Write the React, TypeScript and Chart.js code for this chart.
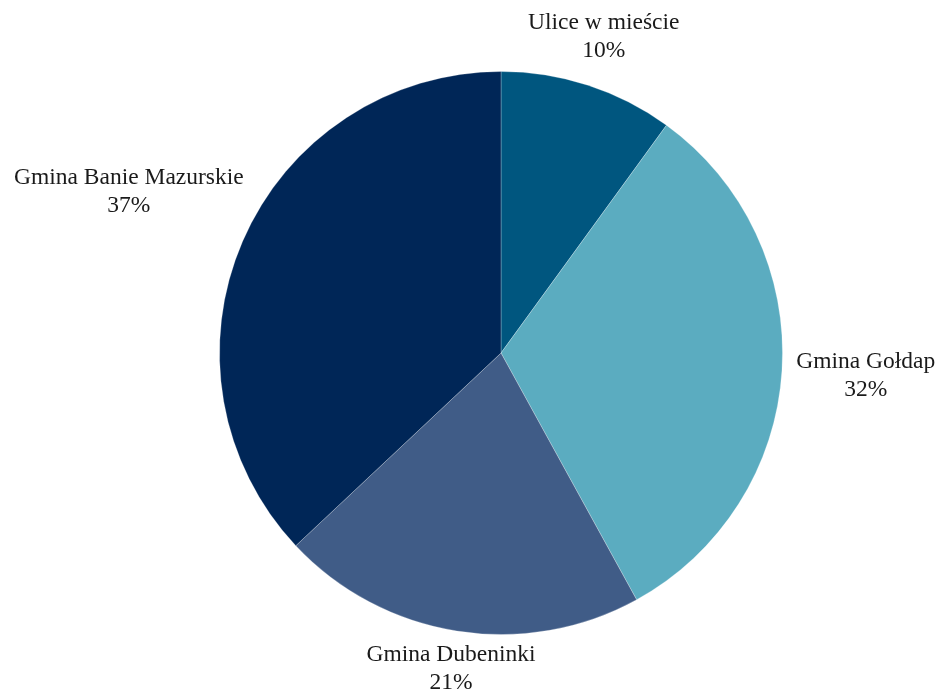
import React, { useEffect, useRef } from "react";
import { Chart, registerables } from "chart.js";

Chart.register(...registerables);

const categories = ["Ulice w mieście", "Gmina Gołdap", "Gmina Dubeninki", "Gmina Banie Mazurskie"];
const shares = [10, 32, 21, 37];
const colors = ["#00567F", "#5BACC0", "#405C87", "#002657"];
// distance of each label's centre beyond the pie's edge, along the slice's mid-angle
const labelExtra = [51, 84, 38, 124];

const FONT = "23.5px 'Liberation Serif', 'Times New Roman', serif";
const LINE_H = 28;

const outsideLabels = {
  id: "outsideLabels",
  afterDraw(chart: any) {
    const ctx = chart.ctx;
    const meta = chart.getDatasetMeta(0);
    const total = shares.reduce((a, b) => a + b, 0);
    ctx.save();
    ctx.font = FONT;
    ctx.fillStyle = "#1a1a1a";
    ctx.textAlign = "center";
    ctx.textBaseline = "middle";
    meta.data.forEach((arc: any, i: number) => {
      const { x, y, startAngle, endAngle, outerRadius } = arc.getProps(
        ["x", "y", "startAngle", "endAngle", "outerRadius"],
        true
      );
      const mid = (startAngle + endAngle) / 2;
      const r = outerRadius + labelExtra[i];
      const cx = x + Math.cos(mid) * r;
      const cy = y + Math.sin(mid) * r;
      const l1 = categories[i];
      const l2 = Math.round((shares[i] / total) * 100) + "%";
      ctx.fillText(l1, cx, cy - LINE_H / 2);
      ctx.fillText(l2, cx, cy + LINE_H / 2);
    });
    ctx.restore();
  },
};

export default function App() {
  const ref = useRef<HTMLCanvasElement>(null);
  useEffect(() => {
    if (!ref.current) return;
    const chart = new Chart(ref.current, {
      type: "pie",
      data: {
        labels: categories,
        datasets: [
          {
            data: shares,
            backgroundColor: colors,
            borderColor: "rgba(255,255,255,0.25)",
            borderWidth: 1,
          },
        ],
      },
      options: {
        responsive: false,
        animation: false,
        devicePixelRatio: 1,
        layout: { padding: { left: 219, right: 158, top: 71, bottom: 56 } },
        plugins: {
          legend: { display: false },
          tooltip: { enabled: false },
        },
      },
      plugins: [outsideLabels],
    });
    return () => chart.destroy();
  }, []);
  return (
    <div style={{ position: "fixed", left: 0, top: 0, width: 941, height: 691, background: "#fff" }}>
      <canvas ref={ref} width={941} height={691} style={{ width: 941, height: 691 }} />
    </div>
  );
}
